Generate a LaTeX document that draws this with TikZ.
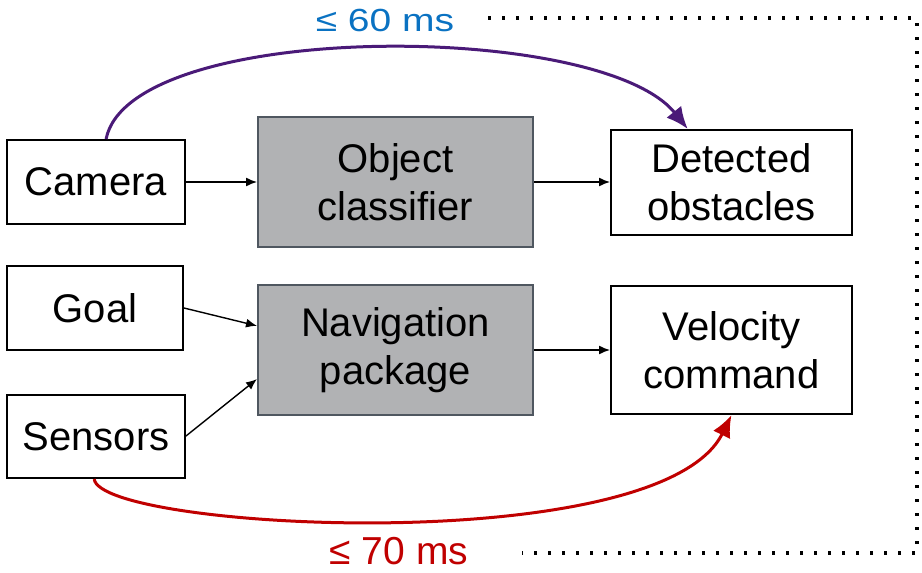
\documentclass[tikz,border=0pt]{standalone}
\usepackage{fontspec}
\setmainfont{Liberation Sans}
\usetikzlibrary{arrows.meta,calc}

\definecolor{boxgray}{HTML}{B1B2B4}
\definecolor{boxedge}{HTML}{4F5760}
\definecolor{latpurple}{HTML}{4A1A78}
\definecolor{latblue}{HTML}{0A72C2}
\definecolor{latred}{HTML}{C00000}

\tikzset{
  base/.style={draw, line width=2pt, align=center, inner sep=0pt,
    font=\fontsize{40}{48}\selectfont},
  iobox/.style={base, fill=white},
  procbox/.style={base, fill=boxgray, draw=boxedge, minimum width=275pt, minimum height=130pt},
  flow/.style={line width=1.4pt, -{Latex[length=11pt,width=9pt]}},
  bound/.style={line width=3pt, -{Latex[length=22pt,width=19pt]}},
  limit/.style={font=\fontsize{39}{47}\selectfont, inner sep=0pt},
  guide/.style={line width=3.4pt, dash pattern=on 3.4pt off 10.6pt},
}

\begin{document}
\begin{tikzpicture}[x=1pt,y=-1pt]
\useasboundingbox (0,0) rectangle (922,573);

% inputs
\node[iobox, minimum width=178pt, minimum height=84pt] (cam) at (96,182) {Camera};
\node[iobox, minimum width=176pt, minimum height=84pt] (goal) at (95,308) {Goal};
\node[iobox, minimum width=178pt, minimum height=83pt] (sens) at (96,436.5) {Sensors};

% processing stages
\node[procbox] (cls) at (395.5,182) {Object\\classifier};
\node[procbox] (nav) at (395.5,350) {Navigation\\package};

% outputs
\node[iobox, minimum width=241pt, minimum height=105pt] (obs) at (731.5,182.5) {Detected\\obstacles};
\node[iobox, minimum width=241pt, minimum height=128pt] (vel) at (731.5,350) {Velocity\\command};

% data flow
\draw[flow] (cam.east) -- (cls.west |- cam.east);
\draw[flow] (cls.east) -- (obs.west |- cls.east);
\draw[flow] (goal.east |- 0,308) -- ($(nav.north west)!0.317!(nav.south west)$);
\draw[flow] (sens.east |- 0,436) -- ($(nav.north west)!0.72!(nav.south west)$);
\draw[flow] (nav.east) -- (vel.west |- nav.east);

% latency bounds
\coordinate (camtop) at ($(cam.north west)!0.556!(cam.north east)$);
\coordinate (obstop) at ($(obs.north west)!0.32!(obs.north east)$);
\draw[bound, latpurple] (camtop) .. controls (130,20) and (600,20) .. (obstop);

\coordinate (sensbot) at ($(sens.south west)!0.49!(sens.south east)$);
\coordinate (velbot) at ($(vel.south west)!0.5!(vel.south east)$);
\draw[bound, latred] (sensbot) .. controls (100,530) and (660,560) .. (velbot);

\node[limit, text=latblue, yscale=0.82, transform shape] (top) at (385,20) {≤ 60 ms};
\node[limit, text=latred] (bot) at (399,551) {≤ 70 ms};

% bracket joining the two bounds
\coordinate (d1) at (488,18);
\coordinate (d2) at (917,18);
\coordinate (d3) at (917,553);
\coordinate (d4) at (522,553);
\draw[guide] (d1) -- (d2) -- (d3) -- (d4);
\end{tikzpicture}
\end{document}
